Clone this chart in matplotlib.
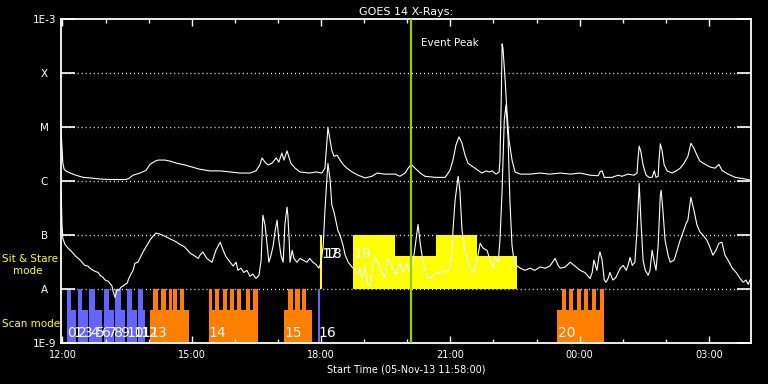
import matplotlib
matplotlib.use('Agg')
import matplotlib.pyplot as plt
from matplotlib.ticker import FixedLocator, NullLocator
import numpy as np

# ── GOES 14 light curves: time in hours UT from 05-Nov-13 00:00 (>24 = next day),
#    flux as log10(W/m^2) ─────────────────────────────────────────────────────────
long_hours = [
    11.97, 11.99, 12.01, 12.04, 12.08, 12.18, 12.31, 12.48, 12.64, 12.87, 13.10, 13.45,
    13.52, 13.64, 13.80, 13.94, 14.03, 14.15, 14.22, 14.38, 14.50, 14.66, 14.84, 15.01,
    15.19, 15.42, 15.66, 15.89, 16.12, 16.35, 16.49, 16.58, 16.63, 16.70, 16.77, 16.86,
    16.96, 17.02, 17.09, 17.14, 17.21, 17.26, 17.30, 17.40, 17.51, 17.74, 17.88, 18.02,
    18.09, 18.14, 18.16, 18.21, 18.25, 18.30, 18.37, 18.44, 18.51, 18.60, 18.72, 18.86,
    19.02, 19.18, 19.30, 19.48, 19.72, 19.83, 19.95, 20.02, 20.09, 20.18, 20.30, 20.41,
    20.65, 20.88, 20.99, 21.06, 21.13, 21.20, 21.27, 21.34, 21.41, 21.50, 21.64, 21.73,
    21.83, 21.90, 21.97, 22.06, 22.13, 22.15, 22.18, 22.20, 22.22, 22.27, 22.31, 22.36,
    22.43, 22.50, 22.62, 22.85, 23.08, 23.31, 23.55, 23.78, 24.01, 24.24, 24.43, 24.47,
    24.52, 24.57, 24.75, 24.89, 24.98, 25.12, 25.26, 25.33, 25.35, 25.38, 25.42, 25.47,
    25.54, 25.61, 25.68, 25.73, 25.77, 25.82, 25.84, 25.87, 25.91, 25.96, 26.03, 26.14,
    26.24, 26.33, 26.42, 26.51, 26.58, 26.65, 26.72, 26.79, 26.91, 27.03, 27.14, 27.23,
    27.30, 27.44, 27.61, 27.84, 27.95]
long_logflux = [
    -5.09, -5.37, -5.67, -5.78, -5.81, -5.85, -5.89, -5.93, -5.94, -5.96, -5.97, -5.97,
    -5.96, -5.89, -5.85, -5.80, -5.69, -5.63, -5.61, -5.61, -5.63, -5.67, -5.70, -5.74,
    -5.78, -5.81, -5.81, -5.83, -5.85, -5.85, -5.81, -5.70, -5.57, -5.65, -5.70, -5.67,
    -5.57, -5.65, -5.48, -5.61, -5.44, -5.57, -5.67, -5.76, -5.83, -5.85, -5.83, -5.85,
    -5.76, -5.24, -5.01, -5.24, -5.43, -5.54, -5.52, -5.61, -5.69, -5.76, -5.83, -5.89,
    -5.94, -5.91, -5.85, -5.87, -5.87, -5.91, -5.85, -5.76, -5.69, -5.76, -5.85, -5.91,
    -5.93, -5.93, -5.80, -5.61, -5.33, -5.18, -5.30, -5.52, -5.67, -5.72, -5.80, -5.85,
    -5.81, -5.83, -5.81, -5.87, -5.83, -5.61, -4.50, -3.46, -3.54, -4.13, -4.68, -5.24,
    -5.61, -5.83, -5.87, -5.87, -5.85, -5.87, -5.85, -5.87, -5.85, -5.89, -5.90, -5.83,
    -5.81, -5.93, -5.93, -5.89, -5.91, -5.87, -5.89, -5.85, -5.61, -5.35, -5.46, -5.70,
    -5.89, -5.93, -5.93, -5.81, -5.93, -5.91, -5.61, -5.31, -5.43, -5.70, -5.81, -5.85,
    -5.81, -5.76, -5.67, -5.54, -5.30, -5.39, -5.52, -5.63, -5.69, -5.74, -5.76, -5.69,
    -5.80, -5.87, -5.93, -5.96, -5.98]

short_hours = [
    11.97, 11.99, 12.01, 12.06, 12.13, 12.22, 12.31, 12.41, 12.52, 12.59, 12.64, 12.71,
    12.76, 12.83, 12.87, 12.94, 12.99, 13.06, 13.10, 13.15, 13.17, 13.22, 13.27, 13.31,
    13.36, 13.41, 13.45, 13.50, 13.54, 13.59, 13.64, 13.68, 13.75, 13.82, 13.87, 13.92,
    13.99, 14.03, 14.10, 14.17, 14.26, 14.38, 14.50, 14.61, 14.73, 14.84, 14.96, 15.08,
    15.15, 15.19, 15.26, 15.35, 15.47, 15.56, 15.66, 15.73, 15.79, 15.89, 15.96, 16.03,
    16.07, 16.14, 16.21, 16.28, 16.35, 16.42, 16.49, 16.56, 16.61, 16.65, 16.70, 16.75,
    16.79, 16.84, 16.89, 16.93, 16.98, 17.02, 17.07, 17.12, 17.14, 17.16, 17.21, 17.23,
    17.26, 17.28, 17.33, 17.37, 17.44, 17.51, 17.58, 17.67, 17.74, 17.81, 17.88, 17.95,
    18.00, 18.05, 18.09, 18.14, 18.16, 18.21, 18.25, 18.30, 18.35, 18.39, 18.44, 18.51,
    18.56, 18.63, 18.72, 18.79, 18.86, 18.90, 18.95, 19.02, 19.09, 19.14, 19.18, 19.25,
    19.32, 19.41, 19.48, 19.55, 19.65, 19.74, 19.83, 19.90, 19.99, 20.06, 20.13, 20.18,
    20.25, 20.30, 20.37, 20.46, 20.53, 20.60, 20.69, 20.76, 20.83, 20.92, 20.99, 21.04,
    21.06, 21.11, 21.18, 21.22, 21.27, 21.34, 21.41, 21.50, 21.55, 21.62, 21.69, 21.76,
    21.85, 21.92, 21.99, 22.04, 22.11, 22.15, 22.20, 22.25, 22.29, 22.34, 22.38, 22.43,
    22.48, 22.55, 22.62, 22.73, 22.85, 22.96, 23.08, 23.20, 23.31, 23.43, 23.50, 23.55,
    23.66, 23.78, 23.89, 24.01, 24.12, 24.24, 24.29, 24.33, 24.40, 24.45, 24.47, 24.52,
    24.57, 24.61, 24.66, 24.70, 24.77, 24.84, 24.94, 25.01, 25.08, 25.12, 25.17, 25.22,
    25.28, 25.33, 25.38, 25.42, 25.47, 25.52, 25.59, 25.63, 25.68, 25.73, 25.77, 25.82,
    25.87, 25.89, 25.93, 25.98, 26.05, 26.10, 26.19, 26.26, 26.33, 26.40, 26.47, 26.51,
    26.58, 26.65, 26.72, 26.79, 26.86, 26.95, 27.03, 27.09, 27.16, 27.23, 27.30, 27.37,
    27.44, 27.54, 27.63, 27.72, 27.79, 27.86, 27.91, 27.95]
short_logflux = [
    -6.17, -6.81, -7.06, -7.17, -7.24, -7.31, -7.39, -7.46, -7.56, -7.57, -7.61, -7.65,
    -7.67, -7.69, -7.74, -7.78, -7.83, -7.85, -7.89, -7.94, -8.02, -8.15, -8.00, -8.02,
    -7.96, -7.94, -7.91, -7.89, -7.80, -7.72, -7.65, -7.52, -7.50, -7.39, -7.31, -7.24,
    -7.15, -7.09, -7.02, -6.96, -6.98, -7.02, -7.07, -7.11, -7.17, -7.22, -7.33, -7.39,
    -7.43, -7.37, -7.31, -7.43, -7.50, -7.28, -7.13, -7.28, -7.39, -7.50, -7.57, -7.50,
    -7.65, -7.61, -7.69, -7.65, -7.76, -7.72, -7.80, -7.74, -7.46, -6.63, -6.81, -7.19,
    -7.50, -7.37, -7.19, -6.94, -6.72, -7.09, -7.37, -7.50, -7.19, -6.81, -6.48, -6.63,
    -7.09, -7.50, -7.28, -7.43, -7.50, -7.43, -7.46, -7.50, -7.43, -7.50, -7.54, -7.61,
    -7.50, -7.19, -6.54, -5.89, -5.67, -5.98, -6.44, -6.57, -6.76, -6.91, -7.00, -7.19,
    -7.37, -7.50, -7.59, -7.65, -7.70, -7.61, -7.83, -7.59, -7.93, -7.93, -7.65, -7.41,
    -7.50, -7.69, -7.78, -7.43, -7.59, -7.74, -7.50, -7.70, -7.52, -7.69, -7.52, -7.22,
    -6.80, -7.15, -7.52, -7.78, -7.80, -7.74, -7.69, -7.70, -7.65, -7.69, -7.59, -7.28,
    -6.91, -6.35, -5.91, -6.17, -6.91, -7.28, -7.52, -7.65, -7.70, -7.46, -7.15, -7.24,
    -7.28, -7.46, -7.59, -7.41, -7.50, -7.09, -6.17, -4.87, -4.59, -5.24, -6.35, -7.19,
    -7.50, -7.57, -7.61, -7.65, -7.61, -7.65, -7.59, -7.61, -7.57, -7.43, -7.56, -7.61,
    -7.59, -7.50, -7.57, -7.65, -7.69, -7.80, -7.69, -7.46, -7.65, -7.37, -7.31, -7.46,
    -7.83, -7.87, -7.80, -7.69, -7.83, -7.78, -7.61, -7.56, -7.65, -7.56, -7.41, -7.56,
    -7.50, -6.91, -6.04, -6.72, -7.46, -7.65, -7.74, -7.65, -7.28, -7.50, -7.65, -7.19,
    -6.26, -6.17, -6.54, -7.09, -7.37, -7.50, -7.46, -7.28, -7.09, -6.94, -6.78, -6.72,
    -6.30, -6.54, -6.81, -6.94, -7.00, -7.09, -7.24, -7.37, -7.28, -7.15, -7.13, -7.37,
    -7.46, -7.61, -7.69, -7.80, -7.87, -7.83, -7.91, -7.83]

# ── observation intervals (start, end) in hours ────────────────────────────────
scan_blue_tall = [(12.10, 12.21), (12.35, 12.46), (12.62, 12.76), (12.97, 13.09),
                  (13.22, 13.35), (13.49, 13.61), (13.75, 13.86), (17.92, 17.98)]
scan_blue_short = [(12.21, 12.31), (12.46, 12.59), (12.76, 12.92), (13.09, 13.19),
                   (13.35, 13.46), (13.61, 13.72), (13.86, 13.91)]
scan_orange_short = [(14.03, 14.94), (15.39, 16.53), (17.15, 17.78), (23.48, 24.57)]
scan_orange_tall = [(14.10, 14.21), (14.28, 14.40), (14.47, 14.54), (14.56, 14.65),
                    (14.73, 14.82),
                    (15.39, 15.46), (15.54, 15.64), (15.72, 15.81), (15.89, 15.97),
                    (16.06, 16.14), (16.25, 16.34), (16.43, 16.53),
                    (17.24, 17.34), (17.40, 17.50), (17.55, 17.65),
                    (23.58, 23.68), (23.75, 23.85), (23.93, 24.03), (24.10, 24.20),
                    (24.28, 24.37), (24.46, 24.57)]
stare_tall = [(17.98, 18.02), (18.74, 19.72), (20.67, 21.61)]
stare_short = [(19.72, 20.67), (21.61, 22.55)]

obs_label_hours = [12.11, 12.25, 12.36, 12.50, 12.64, 12.78, 12.92, 13.06, 13.20, 13.34,
                   13.48, 13.64, 13.82, 14.03, 15.39, 17.16, 17.94, 18.01, 18.07, 18.74,
                   23.49]
obs_label_mode = ['scan'] * 17 + ['stare'] * 3 + ['scan']

event_peak_hour = 20.08

xtick_hours = [12, 15, 18, 21, 24, 27]
xtick_labels = ['12:00', '15:00', '18:00', '21:00', '00:00', '03:00']
ytick_vals = [1e-9, 1e-8, 1e-7, 1e-6, 1e-5, 1e-4, 1e-3]
ytick_labels = ['1E-9', 'A', 'B', 'C', 'M', 'X', '1E-3']

BLUE = '#6464ff'
ORANGE = '#ff8000'
YELLOW = '#ffff00'
GREEN = '#9acd00'

fig = plt.figure(figsize=(7.68, 3.84), dpi=100, facecolor='black')
ax = fig.add_axes([61 / 768, 1 - 343.3 / 384, (750.7 - 61) / 768, (343.3 - 19) / 384])
ax.set_facecolor('black')
ax.set_yscale('log')
ax.set_xlim(11.967, 27.967)
ax.set_ylim(1e-9, 1e-3)


def draw_bars(spans, lo, hi, color):
    starts = [s for s, e in spans]
    widths = [e - s for s, e in spans]
    ax.bar(starts, hi - lo, width=widths, bottom=lo, align='edge',
           color=color, linewidth=0, zorder=1)


# scan-mode row (1E-9 .. A) and sit & stare row (A .. B)
draw_bars(scan_blue_short, 1e-9, 4.1e-9, BLUE)
draw_bars(scan_blue_tall, 1e-9, 1e-8, BLUE)
draw_bars(scan_orange_short, 1e-9, 4.1e-9, ORANGE)
draw_bars(scan_orange_tall, 1e-9, 1e-8, ORANGE)
draw_bars(stare_short, 1e-8, 4.1e-8, YELLOW)
draw_bars(stare_tall, 1e-8, 1e-7, YELLOW)

for lvl in ytick_vals[1:-1]:
    ax.axhline(lvl, color='white', lw=1.0, ls=(0, (0.7, 2.2)), zorder=0.5)

ax.plot(long_hours, 10 ** np.array(long_logflux), color='white', lw=0.8, zorder=3)
ax.plot(short_hours, 10 ** np.array(short_logflux), color='white', lw=0.8, zorder=3)

ax.axvline(event_peak_hour, color=GREEN, lw=1.6, zorder=4)

for i, (h, mode) in enumerate(zip(obs_label_hours, obs_label_mode)):
    y = 1.53e-9 if mode == 'scan' else 4.45e-8
    ax.text(h, y, str(i), color='white', fontsize=10, ha='left', va='center', zorder=5)

# axes styling
ax.xaxis.set_major_locator(FixedLocator(xtick_hours))
ax.xaxis.set_minor_locator(FixedLocator(list(range(12, 28))))
ax.set_xticklabels(xtick_labels)
ax.tick_params(axis='x', which='major', direction='in', length=5, width=1,
               top=True, colors='white', labelsize=7, pad=5)
ax.tick_params(axis='x', which='minor', direction='in', length=3, width=1,
               top=True, colors='white')
ax.yaxis.set_major_locator(FixedLocator(ytick_vals))
ax.yaxis.set_minor_locator(NullLocator())
ax.set_yticklabels(ytick_labels)
ax.tick_params(axis='y', which='major', direction='in', length=10, width=1.2,
               right=True, colors='white', labelsize=7.5, pad=12)
for lab in ax.get_yticklabels():
    lab.set_horizontalalignment('center')
for sp in ax.spines.values():
    sp.set_color('white')
    sp.set_linewidth(1.3)

ax.set_title('GOES 14 X-Rays:', color='white', fontsize=8, pad=3)
ax.set_xlabel('Start Time (05-Nov-13 11:58:00)', color='white', fontsize=7, labelpad=3)

fig.text(421 / 768, 1 - 43 / 384, 'Event Peak', color='white', fontsize=7.5, va='center')
fig.text(2 / 768, 1 - 259 / 384, 'Sit & Stare', color=YELLOW, fontsize=7.5, va='center')
fig.text(13 / 768, 1 - 271 / 384, 'mode', color=YELLOW, fontsize=7.5, va='center')
fig.text(2 / 768, 1 - 324 / 384, 'Scan mode', color=YELLOW, fontsize=7.5, va='center')

fig.savefig('out.png', dpi=100, facecolor='black')
